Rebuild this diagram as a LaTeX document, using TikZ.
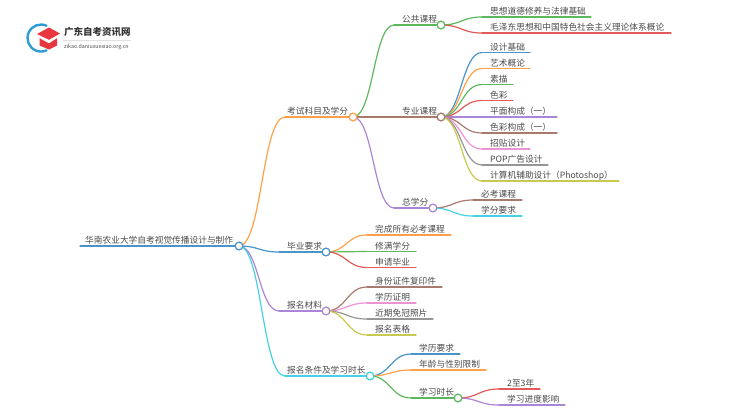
\documentclass[tikz,border=0pt]{standalone}
\usepackage{fontspec}
\setmainfont{Noto Sans CJK SC}
\usetikzlibrary{calc}
\definecolor{cblue}{HTML}{4A94CC}
\definecolor{corange}{HTML}{FFA04A}
\definecolor{cgreen}{HTML}{5DB85D}
\definecolor{cred}{HTML}{E25A5A}
\definecolor{cpurple}{HTML}{AC85D6}
\definecolor{cbrown}{HTML}{A87A6E}
\definecolor{cpink}{HTML}{EE93D2}
\definecolor{cgray}{HTML}{969696}
\definecolor{colive}{HTML}{C9C94F}
\definecolor{ccyan}{HTML}{45D2E2}
\definecolor{ctext}{HTML}{4A4A4A}
\definecolor{chat}{HTML}{E8383D}
\definecolor{cring}{HTML}{2E9BD6}
\tikzset{
  x=1pt,y=-1pt,
  hub/.style={circle,draw=#1,fill=white,line width=1.1pt,minimum size=7.6pt,inner sep=0pt},
  lbl/.style={anchor=base west,inner sep=0pt,text=ctext,font=\fontsize{8.7}{10}\selectfont},
  edge/.style={line width=1.2pt,line cap=round,#1},
}
% smooth horizontal S-curve from node #1 to coordinate #2
\newcommand{\scurve}[3]{%
  \coordinate (mid) at ($(#1.center)!0.5!(#2)$);
  \coordinate (ca) at (mid |- #1.center);
  \coordinate (cb) at (mid |- #2);
  \draw[edge=#3] (#1.center) .. controls (ca) and (cb) .. (#2);
}
% name, colour, parent, curve-end x, line-end x, y, text
\newcommand{\leafnode}[7]{%
  \coordinate (#1s) at (#4,#6);
  \coordinate (#1e) at (#5,#6);
  \node[lbl] (#1) at (#4+8,#6-2.3) {#7};
  \scurve{#3}{#1s}{#2}
  \draw[edge=#2] (#1s) -- (#1e);
}
% hub on a branch: name, colour, parent, curve-end x, hub x, y, text, text x
\newcommand{\hubnode}[8]{%
  \coordinate (#1s) at (#4,#6);
  \node[lbl] (#1t) at (#8,#6-2.3) {#7};
  \node[hub=#2] (#1) at (#5,#6) {};
  \scurve{#3}{#1s}{#2}
  \draw[edge=#2] (#1s) -- (#1);
}
\begin{document}
\begin{tikzpicture}
\useasboundingbox (0,0) rectangle (750,410);
% logo
\draw[cring,line width=2.4pt,line cap=round] (46.5,25.7) arc[start angle=-66,end angle=-294,radius=13.5];
\fill[chat] (37,34) -- (49,27.5) -- (60,33.5) -- (49,39.8) -- cycle;
\fill[chat] (39.5,38.2) -- (49,43.4) -- (57,38.2) -- (57,45.5) -- (49,49.5) -- (39.5,45.5) -- cycle;
\node[inner sep=0pt,anchor=base west,text=black!80,font=\fontsize{9.5}{10}\selectfont\bfseries] (logot) at (64,35) {广东自考资讯网};
\coordinate (logoa) at (63,40.5);
\coordinate (logob) at (131,40.5);
\draw[black!12,line width=.5pt] (logoa) -- (logob);
\node[inner sep=0pt,anchor=base west,text=black!70,font=\fontsize{5.3}{6}\selectfont] (logou) at (64,48.8) {zikao.daniuxuexiao.org.cn};

% root
\coordinate (roots) at (80,246);
\node[lbl] (roott) at (85,243.7) {华南农业大学自考视觉传播设计与制作};
\node[hub=cblue] (root) at (239,246) {};
\draw[edge=cblue] (roots) -- (root);

% level 1
\hubnode{a}{corange}{root}{285}{353}{117}{考试科目及学分}{287}
\hubnode{b}{cblue}{root}{279}{326}{252}{毕业要求}{287}
\hubnode{c}{cpurple}{root}{279}{326}{311}{报名材料}{287}
\hubnode{d}{ccyan}{root}{285}{370}{376}{报名条件及学习时长}{287}

% level 2 under a
\hubnode{a1}{cgreen}{a}{394}{441}{25}{公共课程}{402}
\hubnode{a2}{cbrown}{a}{394}{441}{117}{专业课程}{402}
\hubnode{a3}{cpurple}{a}{394}{433}{208}{总学分}{402}

\leafnode{p1}{cgreen}{a1}{482}{591}{17}{思想道德修养与法律基础}
\leafnode{p2}{cred}{a1}{482}{671}{33}{毛泽东思想和中国特色社会主义理论体系概论}

\leafnode{q1}{cblue}{a2}{482}{530}{52.5}{设计基础}
\leafnode{q2}{corange}{a2}{482}{530}{68.5}{艺术概论}
\leafnode{q3}{cgreen}{a2}{482}{513}{84.5}{素描}
\leafnode{q4}{cred}{a2}{482}{513}{100.5}{色彩}
\leafnode{q5}{cpurple}{a2}{482}{557}{117}{平面构成（一）}
\leafnode{q6}{cbrown}{a2}{482}{557}{133}{色彩构成（一）}
\leafnode{q7}{cpink}{a2}{482}{530}{149}{招贴设计}
\leafnode{q8}{cgray}{a2}{482}{548}{165}{POP广告设计}
\leafnode{q9}{colive}{a2}{482}{619}{181}{计算机辅助设计（Photoshop）}

\leafnode{r1}{cbrown}{a3}{473}{522}{200}{必考课程}
\leafnode{r2}{ccyan}{a3}{473}{522}{216}{学分要求}

\leafnode{b1}{corange}{b}{367}{451}{235}{完成所有必考课程}
\leafnode{b2}{cgreen}{b}{367}{416}{251.5}{修满学分}
\leafnode{b3}{cred}{b}{367}{416}{267.5}{申请毕业}

\leafnode{c1}{cbrown}{c}{367}{442}{287}{身份证件复印件}
\leafnode{c2}{cpink}{c}{367}{416}{303}{学历证明}
\leafnode{c3}{cgray}{c}{367}{433}{319}{近期免冠照片}
\leafnode{c4}{colive}{c}{367}{416}{335}{报名表格}

\leafnode{d1}{cblue}{d}{411}{460}{354}{学历要求}
\leafnode{d2}{corange}{d}{411}{486}{370}{年龄与性别限制}
\hubnode{d3}{cgreen}{d}{411}{458}{398}{学习时长}{419}

\leafnode{e1}{cred}{d3}{499}{540}{389}{2至3年}
\leafnode{e2}{cpurple}{d3}{499}{565}{405}{学习进度影响}

% hubs on top of their edges
\foreach \n/\c/\px/\py in {root/cblue/239/246,a/corange/353/117,b/cblue/326/252,c/cpurple/326/311,d/ccyan/370/376,a1/cgreen/441/25,a2/cbrown/441/117,a3/cpurple/433/208,d3/cgreen/458/398}{
  \node[hub=\c] (top\n) at (\px,\py) {};
}
\end{tikzpicture}
\end{document}
